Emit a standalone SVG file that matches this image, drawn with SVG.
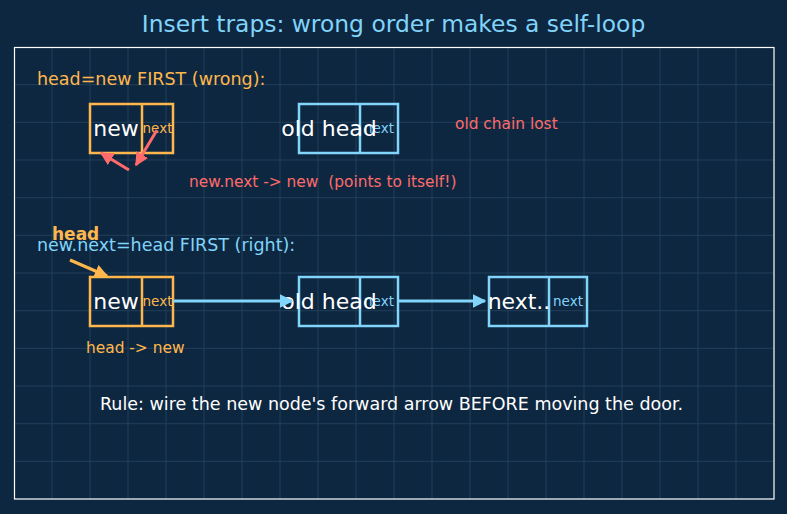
<svg xmlns="http://www.w3.org/2000/svg" width="787" height="514" viewBox="0 0 787 514">
<style>
text{font-family:"DejaVu Sans","Liberation Sans",sans-serif}
.grid{stroke:#2a4a66;stroke-width:1;opacity:0.7}
.ob{fill:none;stroke:#ffb74d;stroke-width:2.5}
.bb{fill:none;stroke:#81d4fa;stroke-width:2.5}
.big{font-size:22px;fill:#ffffff;text-anchor:middle}
.sm{font-size:13.5px;text-anchor:middle}
.o{fill:#ffb74d}
.b{fill:#81d4fa}
.r{fill:#ff6b6b}
</style>
<defs>
<marker id="ar" viewBox="0 0 10 10" refX="9" refY="5" markerWidth="4.5" markerHeight="4.5" orient="auto" markerUnits="strokeWidth"><path d="M0,0 L10,5 L0,10 z" fill="#ff6b6b"/></marker>
<marker id="ab" viewBox="0 0 10 10" refX="9" refY="5" markerWidth="4.5" markerHeight="4.5" orient="auto" markerUnits="strokeWidth"><path d="M0,0 L10,5 L0,10 z" fill="#81d4fa"/></marker>
<marker id="ao" viewBox="0 0 10 10" refX="9" refY="5" markerWidth="4.5" markerHeight="4.5" orient="auto" markerUnits="strokeWidth"><path d="M0,0 L10,5 L0,10 z" fill="#ffb74d"/></marker>
</defs>
<rect width="787" height="514" fill="#0e2741"/>
<g id="grid" class="grid">
<path d="M52,47V499M90,47V499M128,47V499M166,47V499M204,47V499M242,47V499M280,47V499M318,47V499M356,47V499M394,47V499M432,47V499M470,47V499M508,47V499M546,47V499M584,47V499M622,47V499M660,47V499M698,47V499M736,47V499"/>
<path d="M14,84.7H774M14,122.3H774M14,160H774M14,197.7H774M14,235.3H774M14,273H774M14,310.7H774M14,348.3H774M14,386H774M14,423.7H774M14,461.3H774"/>
</g>
<rect x="14.5" y="47.5" width="759.5" height="451.5" fill="none" stroke="#ffffff" stroke-width="1.2"/>
<text x="393.5" y="32" font-size="23.4" fill="#81d4fa" text-anchor="middle">Insert traps: wrong order makes a self-loop</text>
<text x="37" y="85" font-size="17.5" class="o">head=new FIRST (wrong):</text>
<g id="w_new">
<rect x="90" y="104" width="83" height="49" class="ob"/>
<line x1="142" y1="104" x2="142" y2="153" class="ob"/>
<text x="116" y="136" class="big">new</text>
<text x="157.5" y="133" class="sm o">next</text>
</g>
<g id="w_old">
<rect x="299" y="104" width="99" height="49" class="bb"/>
<line x1="360" y1="104" x2="360" y2="153" class="bb"/>
<text x="379" y="133" class="sm b">next</text>
<text x="329" y="136" class="big">old head</text>
</g>
<text x="455" y="129" font-size="15.4" class="r">old chain lost</text>
<text x="189" y="187" font-size="15.4" class="r" xml:space="preserve">new.next -&gt; new  (points to itself!)</text>
<text x="37" y="251" font-size="17.5" class="b">new.next=head FIRST (right):</text>
<text x="52" y="240" font-size="17" font-weight="bold" class="o">head</text>
<g id="r_new">
<rect x="90" y="277" width="83" height="49" class="ob"/>
<line x1="142" y1="277" x2="142" y2="326" class="ob"/>
<text x="116" y="309" class="big">new</text>
<text x="157.5" y="306" class="sm o">next</text>
</g>
<g id="r_old">
<rect x="299" y="277" width="99" height="49" class="bb"/>
<line x1="360" y1="277" x2="360" y2="326" class="bb"/>
<text x="379" y="306" class="sm b">next</text>
<text x="329" y="309" class="big">old head</text>
</g>
<g id="r_next">
<rect x="489" y="277" width="98" height="49" class="bb"/>
<line x1="549" y1="277" x2="549" y2="326" class="bb"/>
<text x="519" y="309" class="big">next..</text>
<text x="568" y="306" class="sm b">next</text>
</g>
<g id="connectors" fill="none" stroke-width="3">
<line x1="157" y1="130" x2="136" y2="165" stroke="#ff6b6b" marker-end="url(#ar)"/>
<line x1="129" y1="170" x2="101" y2="153" stroke="#ff6b6b" marker-end="url(#ar)"/>
<line x1="173" y1="301" x2="292" y2="301" stroke="#81d4fa" marker-end="url(#ab)"/>
<line x1="398" y1="301" x2="485" y2="301" stroke="#81d4fa" marker-end="url(#ab)"/>
<line x1="70" y1="260" x2="107" y2="276" stroke="#ffb74d" marker-end="url(#ao)"/>
</g>
<text x="86" y="353" font-size="15.4" class="o">head -&gt; new</text>
<text x="100" y="410" font-size="17.5" fill="#ffffff">Rule: wire the new node's forward arrow BEFORE moving the door.</text>
</svg>
